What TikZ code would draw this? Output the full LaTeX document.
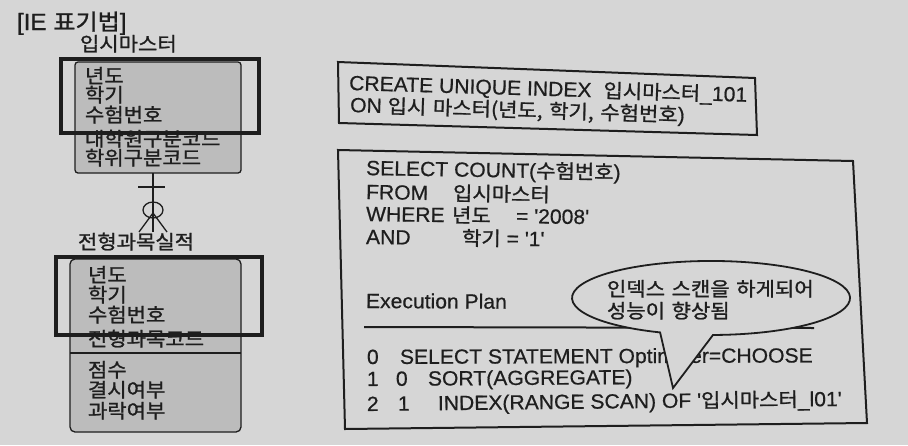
\documentclass[tikz,border=0pt]{standalone}
\usepackage{fontspec}
\setmainfont[FakeBold=0.6,FakeStretch=1.03]{Liberation Sans}
\newfontfamily\krfont[Scale=0.95,FakeStretch=1.08,FakeBold=1.2,WordSpace=1.4]{Noto Sans CJK KR}
\newcommand\ko[1]{{\krfont #1}}
\definecolor{paper}{HTML}{D6D6D6}
\definecolor{entgrey}{HTML}{BCBCBC}
\definecolor{ink}{HTML}{1E1E1E}
\begin{document}
\begin{tikzpicture}[x=1pt,y=-1pt,
  lat/.style={anchor=base west, inner sep=0pt, outer sep=0pt, text=ink,
              font=\fontsize{20.5}{24}\selectfont},
  kor/.style={lat, font=\fontsize{20.5}{24}\selectfont\krfont},
  entbox/.style={draw=ink, fill=entgrey, line width=1.3pt, rounded corners=3pt,
                 inner sep=0pt, outer sep=0pt},
  keyframe/.style={draw=ink, line width=3.2pt, inner sep=0pt, outer sep=0pt},
  thinline/.style={draw=ink, line width=1.3pt},
  sqlbox/.style={draw=ink, line width=2pt, line join=miter},
  balloon/.style={draw=ink, fill=paper, line width=1.8pt, line join=miter}]

% paper
\fill[paper] (0,0) rectangle (908,445);
\useasboundingbox (0,0) rectangle (908,445);

% ---------- IE notation ----------
\node[lat, font=\fontsize{23.5}{27}\selectfont] (title) at (17,30) {[IE \ko{표기법}]};

% entity: 입시마스터
\node[kor] (masterlabel) at (80,51) {입시마스터};
\node[entbox, minimum width=166pt, minimum height=111pt] (master) at (158,117.5) {};
\node[kor] (m1) at (85,83)  {년도};
\node[kor] (m2) at (85,102) {학기};
\node[kor] (m3) at (85,122) {수험번호};
\node[kor] (m4) at (85,146) {대학원구분코드};
\node[kor] (m5) at (85,165) {학위구분코드};
\node[keyframe, minimum width=198pt, minimum height=74pt] (masterkey) at (160,96) {};

% relationship: one to zero-or-many
\coordinate (foot) at (153,232);
\coordinate (bar) at (153,187);
\coordinate (ring) at (153,210);
\coordinate (apex) at (153,213);
\draw[thinline] (master.south -| foot) -- (foot);
\draw[thinline] ([xshift=-15pt]bar) -- ([xshift=12pt]bar);
\draw[thinline] (ring) ellipse [x radius=10, y radius=8];
\draw[thinline] ([xshift=-14pt]foot) -- (apex) -- ([xshift=14pt]foot);

% entity: 전형과목실적
\node[kor] (resultlabel) at (78,249) {전형과목실적};
\node[entbox, rounded corners=5pt, minimum width=171pt, minimum height=173pt] (result) at (155.5,345.5) {};
\coordinate (split) at (0,353);
\draw[thinline] (result.west |- split) -- (result.east |- split);
\node[kor] (r1) at (88,282) {년도};
\node[kor] (r2) at (88,302) {학기};
\node[kor] (r3) at (88,322) {수험번호};
\node[kor] (r4) at (88,346) {전형과목코드};
\node[kor] (r5) at (88,377) {점수};
\node[kor] (r6) at (88,397) {결시여부};
\node[kor] (r7) at (88,418) {과락여부};
\node[keyframe, minimum width=206pt, minimum height=78pt] (resultkey) at (159,296) {};

% ---------- index definition ----------
\draw[sqlbox] (338,62) -- (755,78) -- (757,135) -- (339,123) -- cycle;
\node[lat, rotate=-1.7] (ddl1) at (349,90)
  {CREATE UNIQUE INDEX\hspace{12pt}\ko{입시마스터}\_101};
\node[lat, rotate=-1.7] (ddl2) at (350,112)
  {ON \ko{입시 마스터(년도, 학기, 수험번호})};

% ---------- query and plan ----------
\draw[sqlbox] (338,150) -- (853,161) -- (867,423) -- (345,429) -- cycle;
\node[lat, rotate=-1.0] (q1) at (366,175) {SELECT COUNT(\ko{수험번호})};
\node[lat, rotate=-0.9] (q2) at (366,199) {\makebox[87pt][l]{FROM}\ko{입시마스터}};
\node[lat, rotate=-0.8] (q3) at (366,221)
  {\makebox[86pt][l]{WHERE}\makebox[64pt][l]{\ko{년도}}= \textquotesingle 2008\textquotesingle};
\node[lat, rotate=-0.7] (q4) at (366,244)
  {\makebox[96pt][l]{AND}\ko{학기} = \textquotesingle 1\textquotesingle};
\node[lat, rotate=-0.3] (plan) at (366,308) {Execution Plan};
\draw[ink, line width=2pt] (364,327) -- (814,328);
\node[lat, rotate=0.2] (p0) at (367,364)
  {\makebox[33pt][l]{0}SELECT STATEMENT Optimizer=CHOOSE};
\node[lat, rotate=0.4] (p1) at (367,386)
  {\makebox[29pt][l]{1}\makebox[32pt][l]{0}SORT(AGGREGATE)};
\node[lat, rotate=0.6] (p2) at (367,411)
  {\makebox[31pt][l]{2}\makebox[40pt][l]{1}INDEX(RANGE SCAN) OF \textquotesingle\ko{입시마스터}\_l01\textquotesingle};

% speech balloon
\coordinate (tip) at (673,388);
\draw[balloon] (660.1,332.4) arc[start angle=111.5, end angle=449.2, x radius=139, y radius=37]
  -- (tip) -- cycle;
\node[kor] (note1) at (607,296) {인덱스 스캔을 하게되어};
\node[kor] (note2) at (607,318) {성능이 향상됨};

\end{tikzpicture}
\end{document}
